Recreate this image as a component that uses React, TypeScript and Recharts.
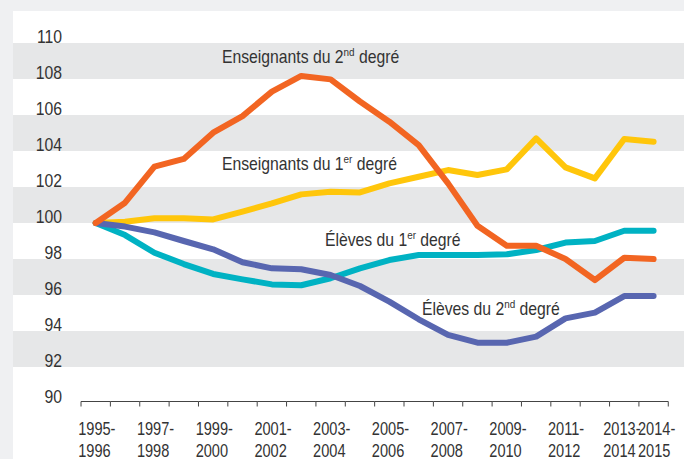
import React from 'react';
import { LineChart, Line, XAxis, YAxis, CartesianGrid, Customized } from 'recharts';

const years = [
  '1995-1996', '1996-1997', '1997-1998', '1998-1999', '1999-2000', '2000-2001', '2001-2002',
  '2002-2003', '2003-2004', '2004-2005', '2005-2006', '2006-2007', '2007-2008', '2008-2009',
  '2009-2010', '2010-2011', '2011-2012', '2012-2013', '2013-2014', '2014-2015',
];
const enseignants2nd = [100, 101.13, 103.13, 103.56, 105.02, 105.94, 107.3, 108.17, 107.98, 106.75, 105.63, 104.33, 102.2, 99.85, 98.74, 98.74, 98.0, 96.83, 98.07, 98.0];
const enseignants1er = [100, 100.07, 100.26, 100.26, 100.2, 100.63, 101.09, 101.59, 101.74, 101.7, 102.2, 102.57, 102.94, 102.67, 102.98, 104.7, 103.09, 102.48, 104.67, 104.52];
const eleves1er = [100, 99.33, 98.35, 97.72, 97.17, 96.87, 96.59, 96.54, 96.93, 97.48, 97.94, 98.22, 98.22, 98.22, 98.26, 98.5, 98.91, 99.0, 99.57, 99.57];
const eleves2nd = [100, 99.8, 99.48, 99.0, 98.54, 97.82, 97.48, 97.43, 97.11, 96.5, 95.63, 94.65, 93.78, 93.35, 93.35, 93.69, 94.7, 95.02, 95.94, 95.94];
const yTicks = [90, 92, 94, 96, 98, 100, 102, 104, 106, 108, 110];
const labeledIndices = [0, 2, 4, 6, 8, 10, 12, 14, 16, 18, 19];

const data = years.map((year, i) => ({
  year,
  e2: enseignants2nd[i],
  e1: enseignants1er[i],
  l1: eleves1er[i],
  l2: eleves2nd[i],
}));

const FONT = "'Liberation Sans', Arial, sans-serif";
const TEXT = '#333333';
const HALF = 14.68;
const SQUEEZE = 0.81;

const XTick = (props: any) => {
  const { x, y, payload, index } = props;
  const [a, b] = String(payload.value).split('-');
  const show = labeledIndices.includes(index);
  const dx = index === 18 ? -21 : index === 19 ? -15.6 : -17.5;
  const ay = y - 1.5;
  return (
    <g>
      <line x1={x - HALF} x2={x + HALF} y1={ay} y2={ay} stroke="#444" strokeWidth={1} />
      <line x1={x - HALF} x2={x - HALF} y1={ay} y2={ay + 5} stroke="#444" strokeWidth={1} />
      {index === years.length - 1 && (
        <line x1={x + HALF} x2={x + HALF} y1={ay} y2={ay + 5} stroke="#444" strokeWidth={1} />
      )}
      {show && (
        <g transform={`translate(${x + dx}, ${y}) scale(${SQUEEZE}, 1)`}>
          <text fontFamily={FONT} fontSize={18} fill={TEXT} textAnchor="start">
            <tspan x={0} y={32}>{a}-</tspan>
            <tspan x={0} y={54}>{b}</tspan>
          </text>
        </g>
      )}
    </g>
  );
};

const YTick = (props: any) => {
  const { x, y, payload } = props;
  return (
    <g transform={`translate(${x + 49}, ${y}) scale(0.83, 1)`}>
      <text x={0} y={0} fontFamily={FONT} fontSize={19} fill={TEXT} textAnchor="end">
        {payload.value}
      </text>
    </g>
  );
};

const Lbl = ({ x, y, main, sup, rest }: any) => (
  <g transform={`translate(${x}, ${y}) scale(0.9, 1)`}>
    <text x={0} y={0} fontFamily={FONT} fontSize={17.5} fill={TEXT}>
      {main}
      <tspan fontSize={11} dy={-7}>{sup}</tspan>
      <tspan dy={7}>{rest}</tspan>
    </text>
  </g>
);

const Labels = () => (
  <g>
    <Lbl x={222} y={63} main="Enseignants du 2" sup="nd" rest=" degré" />
    <Lbl x={222} y={170} main="Enseignants du 1" sup="er" rest=" degré" />
    <Lbl x={325} y={246} main="Élèves du 1" sup="er" rest=" degré" />
    <Lbl x={422} y={315} main="Élèves du 2" sup="nd" rest=" degré" />
  </g>
);

export default function App() {
  return (
    <div style={{ position: 'fixed', left: 0, top: 0, width: 684, height: 459, background: '#eff0f2' }}>
      <div style={{ position: 'absolute', left: 13, top: 11, right: 0, bottom: 0, background: '#ffffff' }} />
      <div style={{ position: 'absolute', left: 0, top: 0 }}>
        <LineChart width={684} height={459} data={data} margin={{ top: 43, right: 0, bottom: 0, left: 12 }}>
          <CartesianGrid
            vertical={false}
            horizontal={true}
            stroke="none"
            horizontalFill={['#e6e7e8', '#ffffff']}
          />
          <XAxis
            dataKey="year"
            height={56}
            padding={{ left: 82.7, right: 30.4 }}
            axisLine={false}
            tickLine={false}
            tickSize={0}
            tickMargin={0}
            interval={0}
            tick={<XTick />}
          />
          <YAxis
            width={1}
            domain={[90, 110]}
            ticks={yTicks}
            axisLine={false}
            tickLine={false}
            tickSize={0}
            tickMargin={0}
            interval={0}
            tick={<YTick />}
          />
          <Line dataKey="l1" stroke="#00b2c3" strokeWidth={6} dot={false} strokeLinecap="round" strokeLinejoin="round" isAnimationActive={false} />
          <Line dataKey="e1" stroke="#ffc60b" strokeWidth={6} dot={false} strokeLinecap="round" strokeLinejoin="round" isAnimationActive={false} />
          <Line dataKey="l2" stroke="#5866b0" strokeWidth={6} dot={false} strokeLinecap="round" strokeLinejoin="round" isAnimationActive={false} />
          <Line dataKey="e2" stroke="#f26522" strokeWidth={6} dot={false} strokeLinecap="round" strokeLinejoin="round" isAnimationActive={false} />
          <Customized component={Labels} />
        </LineChart>
      </div>
    </div>
  );
}
